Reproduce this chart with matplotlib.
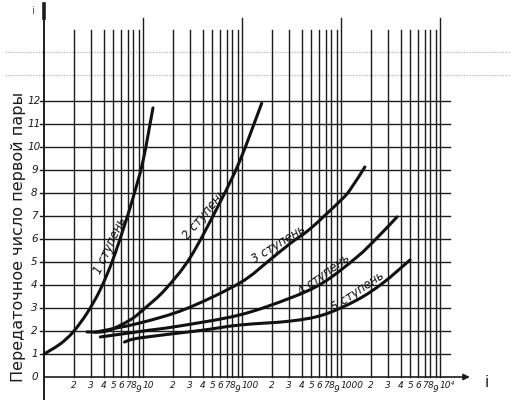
import numpy as np
import matplotlib
matplotlib.use("Agg")
import matplotlib.pyplot as plt
from matplotlib.path import Path
from matplotlib.patches import PathPatch

# ---- data ----
stage1_x = [1.0, 1.45, 1.97, 2.72, 3.68, 4.86, 6.28, 7.93, 10.0, 12.6]
stage1_y = [1.0, 1.43, 1.96, 2.78, 3.78, 5.0, 6.4, 7.8, 9.4, 11.7]

stage2_x = [2.72, 4.3, 7.4, 10.5, 16.7, 30, 60, 95, 158]
stage2_y = [1.96, 2.0, 2.48, 3.0, 3.8, 5.2, 7.6, 9.4, 11.9]

stage3_x = [3.3, 9.3, 27, 95, 192, 305, 490, 977, 1230, 1740]
stage3_y = [1.95, 2.35, 2.96, 4.09, 5.1, 5.8, 6.45, 7.65, 8.13, 9.13]

stage4_x = [3.7, 11.8, 23.6, 95, 305, 658, 1452, 2300, 3680]
stage4_y = [1.74, 2.04, 2.22, 2.70, 3.43, 4.1, 5.22, 6.04, 6.96]

stage5_x = [6.5, 9.3, 37.7, 95, 305, 658, 1452, 2655, 4980]
stage5_y = [1.52, 1.70, 2.02, 2.26, 2.43, 2.70, 3.35, 4.09, 5.09]

stage_labels = ["1 ступень", "2 ступень", "3 ступень", "4 ступень", "5 ступень"]
y_ticks = list(range(0, 13))
x_minor_labels = ["2", "3", "4", "5", "6", "7", "8", "9"]
x_decade_labels = ["10", "100", "1000", "10⁴"]
y_label = "Передаточное число первой пары"
axis_letter = "i"

# ---- figure ----
fig = plt.figure(figsize=(5.11, 4.0), dpi=100)
fig.patch.set_facecolor("white")
ax = fig.add_axes([0, 0, 1, 1])
ax.set_xscale("log")
ax.set_xlim(0.359, 52100)
ax.set_ylim(-1.0, 16.39)
ax.axis("off")

ink = "#1c1c1c"
grid_top = 15.1
h_right = 12600


def smooth_path(xs, ys):
    """Catmull-Rom curve through the points, built in log10(x) space."""
    lx = np.log10(np.asarray(xs, float))
    yy = np.asarray(ys, float)
    P = np.column_stack([lx, yy])
    verts = [P[0]]
    codes = [Path.MOVETO]
    n = len(P)
    for i in range(n - 1):
        p0 = P[i - 1] if i > 0 else P[i]
        p1 = P[i]
        p2 = P[i + 1]
        p3 = P[i + 2] if i + 2 < n else P[i + 1]
        c1 = p1 + (p2 - p0) / 6.0
        c2 = p2 - (p3 - p1) / 6.0
        verts += [c1, c2, p2]
        codes += [Path.CURVE4] * 3
    V = np.array(verts)
    V[:, 0] = 10 ** V[:, 0]
    return Path(V, codes)


# faint graph paper texture
for yy in (13.13, 14.13):
    ax.plot([0.4, 52000], [yy, yy], color="#bdbdbd", lw=1.0, ls=(0, (1, 1)),
            zorder=0)

# vertical grid lines
for k in range(4):
    for m in range(2, 11):
        v = m * 10 ** k
        top = grid_top + (0.5 if m == 10 else 0.0)
        ax.plot([v, v], [0, top], color=ink, lw=1.0, zorder=1)

# horizontal grid lines
for yv in y_ticks[1:]:
    ax.plot([0.91, h_right], [yv, yv], color=ink, lw=1.0, zorder=1)

# axes with arrows
ax.annotate("", xy=(20000, 0), xytext=(1, 0),
            arrowprops=dict(arrowstyle="-|>", color=ink, lw=1.2,
                            mutation_scale=9, shrinkA=0, shrinkB=0), zorder=3)
ax.plot([1, 1], [-1.0, 16.2], color=ink, lw=1.4, zorder=3)
ax.plot([1, 1], [15.6, 16.2], color=ink, lw=2.6, zorder=3)

# curves
curves = [(stage1_x, stage1_y), (stage2_x, stage2_y), (stage3_x, stage3_y),
          (stage4_x, stage4_y), (stage5_x, stage5_y)]
for cx, cy in curves:
    patch = PathPatch(smooth_path(cx, cy), facecolor="none",
                      edgecolor="#111111", lw=2.2, capstyle="round", zorder=4)
    ax.add_patch(patch)

# curve labels (anchored on the curve, written just above it)
label_pos = [(5.3, 5.6, 65), (47, 6.9, 50), (255, 5.54, 32),
             (740, 4.2, 36), (1600, 3.47, 34)]
for txt, (lx, ly, rot) in zip(stage_labels, label_pos):
    ax.text(lx, ly, txt, rotation=rot, rotation_mode="anchor",
            ha="center", va="bottom", fontsize=8.5, style="italic",
            color="#111111", zorder=5)

# y tick labels
for yv in y_ticks:
    ax.text(0.80, yv, str(yv), ha="center", va="center", fontsize=7.5,
            style="italic", color=ink)

# x tick labels
for k in range(4):
    for i, lab in enumerate(x_minor_labels):
        v = (i + 2) * 10 ** k
        yy = -0.55 if lab == "9" else -0.35
        ax.text(v, yy, lab, ha="center", va="center", fontsize=6.5,
                style="italic", color=ink)
    ax.text(10 ** (k + 1) * 0.98, -0.35, x_decade_labels[k], ha="left",
            va="center", fontsize=6.5, style="italic", color=ink)

# axis letters
ax.text(0.78, 15.9, axis_letter, ha="center", va="center", fontsize=8,
        color="#666666")
ax.text(29900, -0.25, axis_letter, ha="center", va="center", fontsize=11,
        color=ink)

# y label
ax.text(0.55, 6.1, y_label, rotation=90, ha="center", va="center",
        fontsize=11.5, color=ink)

fig.savefig("out.png", dpi=100, facecolor="white")
